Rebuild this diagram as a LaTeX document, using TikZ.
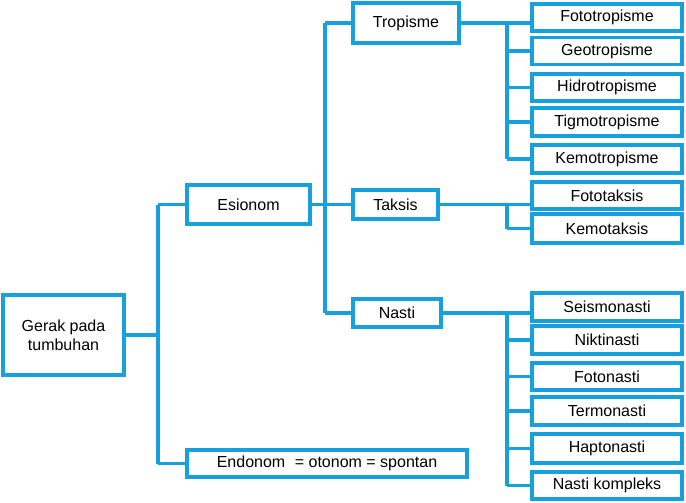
\documentclass[tikz,border=0pt]{standalone}
\usepackage{fontspec}
\setmainfont{Liberation Sans}
\definecolor{blu}{RGB}{22,160,222}
\begin{document}
\begin{tikzpicture}[x=1pt,y=-1pt,
  box/.style={draw=blu,line width=3.2pt,inner sep=0pt,align=center,font=\fontsize{16}{19}\selectfont},
  rbox/.style={box,minimum width=150pt,minimum height=27pt},
  link/.style={draw=blu,line width=3.2pt}]
\useasboundingbox (0,0) rectangle (686,503);
\node[box,minimum width=121pt,minimum height=80pt] (g) at (63.5,335) {Gerak pada\\tumbuhan};
\node[box,minimum width=123pt,minimum height=39pt] (es) at (248.5,204.5) {Esionom};
\node[box,minimum width=280pt,minimum height=27pt] (en) at (327,463.5) {Endonom\hspace{0.6em}= otonom = spontan};
\node[box,minimum width=106pt,minimum height=40pt] (tr) at (406,23) {Tropisme};
\node[box,minimum width=85pt,minimum height=29pt] (ta) at (395.5,204.5) {Taksis};
\node[box,minimum width=88pt,minimum height=28pt] (na) at (397,313) {Nasti};
\node[rbox] (ft) at (607,17.5) {Fototropisme};
\node[rbox] (ge) at (607,51) {Geotropisme};
\node[rbox] (hi) at (607,87.5) {Hidrotropisme};
\node[rbox,minimum height=28pt] (ti) at (607,122) {Tigmotropisme};
\node[rbox,minimum height=28pt] (ke) at (607,159) {Kemotropisme};
\node[rbox] (fk) at (607,195.5) {Fototaksis};
\node[rbox,minimum height=29pt] (kk) at (607,228.5) {Kemotaksis};
\node[rbox,minimum height=28pt] (se) at (607,307) {Seismonasti};
\node[rbox,minimum height=28pt] (ni) at (607,340) {Niktinasti};
\node[rbox] (fn) at (607,376.5) {Fotonasti};
\node[rbox,minimum height=28pt] (te) at (607,411) {Termonasti};
\node[rbox,minimum height=29pt] (ha) at (607,448.5) {Haptonasti};
\node[rbox] (nk) at (607,485.5) {Nasti kompleks};
\coordinate (b1) at (158,0);
\coordinate (b2) at (325,0);
\coordinate (b3) at (507,0);
% level 1
\draw[link] (g.east) -- (g.east -| b1);
\draw[link] (b1 |- es.west) -- (b1 |- en.west);
\draw[link] (b1 |- es.west) -- (es.west);
\draw[link] (b1 |- en.west) -- (en.west);
% level 2
\draw[link] (es.east) -- (ta.west);
\draw[link] (b2 |- tr.west) -- (b2 |- na.west);
\draw[link] (b2 |- tr.west) -- (tr.west);
\draw[link] (b2 |- na.west) -- (na.west);
% tropisme
\draw[link] (tr.east) -- (tr.east -| ft.west);
\draw[link] (tr.east -| b3) -- (b3 |- ke.west);
\foreach \n in {ge,hi,ti,ke} \draw[link] (b3 |- \n.west) -- (\n.west);
% taksis
\draw[link] (ta.east) -- (ta.east -| fk.west);
\draw[link] (ta.east -| b3) -- (b3 |- kk.west);
\draw[link] (b3 |- kk.west) -- (kk.west);
% nasti
\draw[link] (na.east) -- (na.east -| se.west);
\draw[link] (na.east -| b3) -- (b3 |- nk.west);
\foreach \n in {ni,fn,te,ha,nk} \draw[link] (b3 |- \n.west) -- (\n.west);
\end{tikzpicture}
\end{document}
